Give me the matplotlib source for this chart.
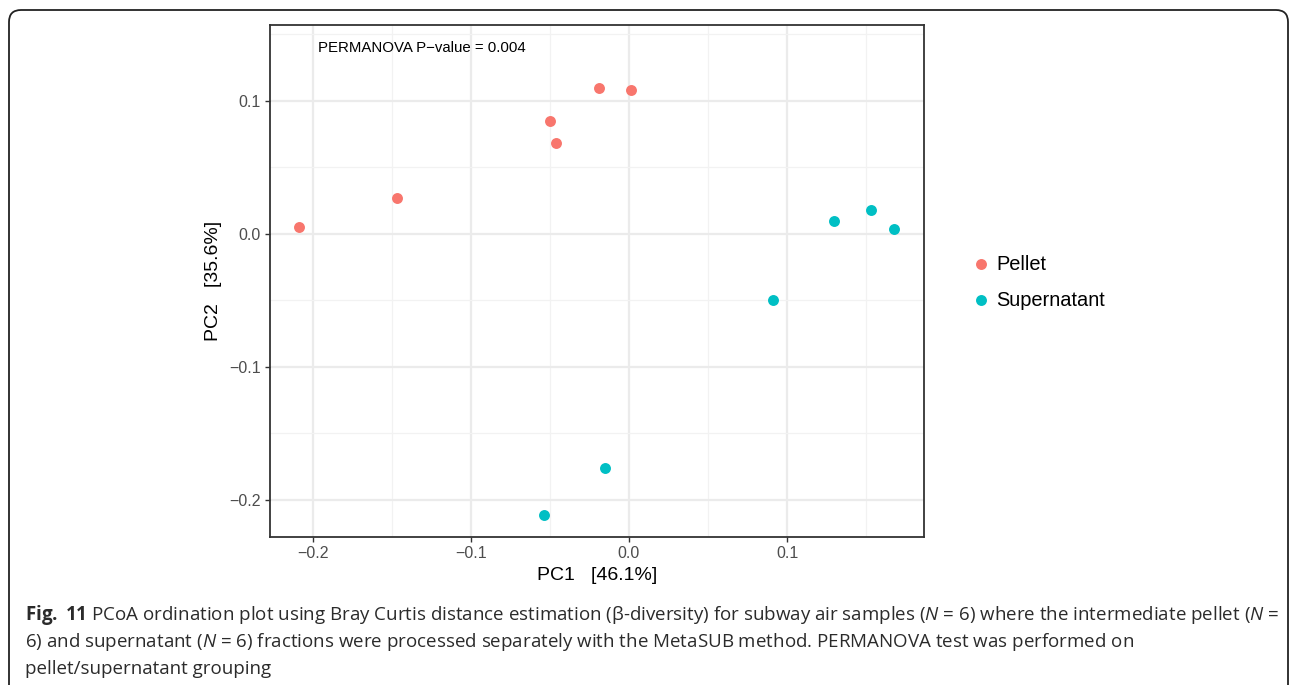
import numpy as np
import matplotlib
matplotlib.use('Agg')
import matplotlib.pyplot as plt
from matplotlib.patches import FancyBboxPatch

# PCoA coordinates
pellet_pc1 = [-0.209, -0.147, -0.050, -0.046, -0.019, 0.001]
pellet_pc2 = [0.005, 0.027, 0.085, 0.068, 0.110, 0.108]
super_pc1 = [-0.054, -0.015, 0.091, 0.130, 0.153, 0.168]
super_pc2 = [-0.211, -0.176, -0.050, 0.010, 0.018, 0.004]

groups = ['Pellet', 'Supernatant']
colors = ['#F8766D', '#00BFC4']
x_ticks = [-0.2, -0.1, 0.0, 0.1]
y_ticks = [-0.2, -0.1, 0.0, 0.1]
x_label = 'PC1   [46.1%]'
y_label = 'PC2   [35.6%]'
annot = 'PERMANOVA P\u2212value = 0.004'

plt.rcParams['font.family'] = ['Liberation Sans', 'DejaVu Sans']
plt.rcParams['mathtext.fontset'] = 'custom'
plt.rcParams['mathtext.rm'] = 'Open Sans'
plt.rcParams['mathtext.it'] = 'Open Sans:italic'
plt.rcParams['mathtext.bf'] = 'Open Sans:bold'

fig = plt.figure(figsize=(12.95, 6.85), dpi=100)
ax = fig.add_axes([270/1295, 1 - 537/685, 654/1295, 512/685])

for xs, ys, c, g in zip([pellet_pc1, super_pc1], [pellet_pc2, super_pc2], colors, groups):
    ax.scatter(xs, ys, s=62, color=c, label=g, zorder=3, linewidths=0)

ax.set_xlim(-0.2272, 0.1867)
ax.set_ylim(-0.2278, 0.157)
ax.set_xticks(x_ticks)
ax.set_yticks(y_ticks)
ax.set_xticklabels([f'{t:.1f}'.replace('-', '\u2212') for t in x_ticks])
ax.set_yticklabels([f'{t:.1f}'.replace('-', '\u2212') for t in y_ticks])
ax.set_xticks([-0.15, -0.05, 0.05, 0.15], minor=True)
ax.set_yticks([-0.15, -0.05, 0.05, 0.15], minor=True)
ax.grid(which='major', color='#EBEBEB', linewidth=1.6, zorder=0)
ax.grid(which='minor', color='#F2F2F2', linewidth=0.9, zorder=0)
ax.set_axisbelow(True)
ax.tick_params(which='major', length=3.5, width=1.0, color='#333333',
               labelsize=11.5, labelcolor='#4D4D4D', pad=3)
ax.tick_params(which='minor', length=0)
for sp in ax.spines.values():
    sp.set_color('#333333')
    sp.set_linewidth(1.3)

ax.set_xlabel(x_label, fontsize=14, labelpad=4)
ax.set_ylabel(y_label, fontsize=14, labelpad=5)
ax.text(-0.1968, 0.14, annot, fontsize=10.85, va='center', ha='left')

fig.legend(loc='center left', bbox_to_anchor=(951/1295, 1 - 282/685), frameon=False,
           fontsize=14.4, handletextpad=0.15, labelspacing=0.85, markerscale=1.0,
           handlelength=1.2)

# caption
cap_kw = dict(fontsize=13.5, family='Open Sans', color='#2B2B2B', ha='left', va='baseline')
fig.text(25/1295, 1 - 620/685,
         r'$\mathbf{Fig.}$ $\mathbf{11}$ PCoA ordination plot using Bray Curtis distance estimation (' + '\u03b2' +
         r'-diversity) for subway air samples ($\mathit{N}$ = 6) where the intermediate pellet ($\mathit{N}$ =',
         **cap_kw)
fig.text(25/1295, 1 - 647/685,
         r'6) and supernatant ($\mathit{N}$ = 6) fractions were processed separately with the MetaSUB method. '
         'PERMANOVA test was performed on', **cap_kw)
fig.text(25/1295, 1 - 674/685, 'pellet/supernatant grouping', **cap_kw)

# rounded frame around the figure
frame = FancyBboxPatch((9/100, -0.3), 12.79, 6.85 - 0.10 + 0.3,
                       boxstyle='round,pad=0,rounding_size=0.12',
                       transform=fig.dpi_scale_trans, fill=False,
                       edgecolor='#222222', linewidth=1.3)
fig.patches.append(frame)

fig.savefig('out.png', dpi=100)
